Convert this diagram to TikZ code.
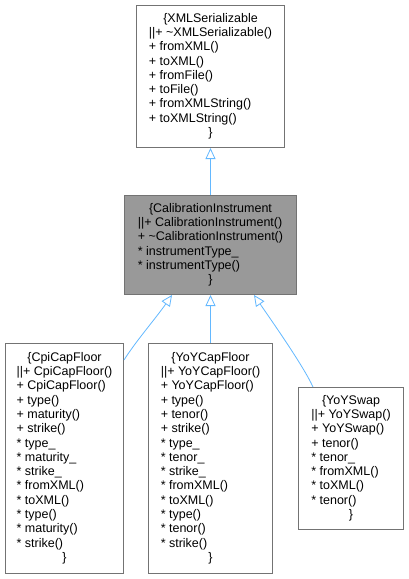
\documentclass[tikz,border=0pt]{standalone}
\usepackage{fontspec}
\setmainfont{Liberation Sans}
\usetikzlibrary{arrows.meta, calc}

\definecolor{edgeblue}{HTML}{63B8FF}
\definecolor{curgray}{HTML}{999999}
\newcommand{\crow}[1]{\multicolumn{1}{@{}c@{}}{#1}}

\begin{document}
\begin{tikzpicture}[
  x=1pt, y=-1pt,
  font=\fontsize{12.5}{14.3}\selectfont,
  cls/.style={rectangle, draw=black!55, line width=1pt, fill=#1, anchor=north west,
              inner sep=0pt, align=center},
  cls/.default=white,
  inherit/.style={draw=edgeblue, line width=0.8pt,
                  -{Triangle[open, length=11pt, width=10pt, fill=white]}},
]
\useasboundingbox (0,0) rectangle (409,579);

% ---- base class ----
\node[cls, minimum width=148pt, minimum height=142pt] (xml) at (136,5) {%
  \begin{tabular}{@{}l@{}}
  \crow{\{XMLSerializable}\\
  \textbar\textbar+ \textasciitilde XMLSerializable()\\
  + fromXML()\\
  + toXML()\\
  + fromFile()\\
  + toFile()\\
  + fromXMLString()\\
  + toXMLString()\\
  \crow{\}}
  \end{tabular}};

% ---- this class ----
\node[cls=curgray, minimum width=172pt, minimum height=99pt] (calib) at (124,195) {%
  \begin{tabular}{@{}l@{}}
  \crow{\{CalibrationInstrument}\\
  \textbar\textbar+ CalibrationInstrument()\\
  + \textasciitilde CalibrationInstrument()\\
  {*} instrumentType\_\\
  {*} instrumentType()\\
  \crow{\}}
  \end{tabular}};

% ---- derived classes ----
\node[cls, minimum width=118pt, minimum height=230pt] (cpi) at (5,343) {%
  \begin{tabular}{@{}l@{}}
  \crow{\{CpiCapFloor}\\
  \textbar\textbar+ CpiCapFloor()\\
  + CpiCapFloor()\\
  + type()\\
  + maturity()\\
  + strike()\\
  {*} type\_\\
  {*} maturity\_\\
  {*} strike\_\\
  {*} fromXML()\\
  {*} toXML()\\
  {*} type()\\
  {*} maturity()\\
  {*} strike()\\
  \crow{\}}
  \end{tabular}};

\node[cls, minimum width=124pt, minimum height=230pt] (yoycap) at (148,343) {%
  \begin{tabular}{@{}l@{}}
  \crow{\{YoYCapFloor}\\
  \textbar\textbar+ YoYCapFloor()\\
  + YoYCapFloor()\\
  + type()\\
  + tenor()\\
  + strike()\\
  {*} type\_\\
  {*} tenor\_\\
  {*} strike\_\\
  {*} fromXML()\\
  {*} toXML()\\
  {*} type()\\
  {*} tenor()\\
  {*} strike()\\
  \crow{\}}
  \end{tabular}};

\node[cls, minimum width=105pt, minimum height=142pt] (swap) at (298,387) {%
  \begin{tabular}{@{}l@{}}
  \crow{\{YoYSwap}\\
  \textbar\textbar+ YoYSwap()\\
  + YoYSwap()\\
  + tenor()\\
  {*} tenor\_\\
  {*} fromXML()\\
  {*} toXML()\\
  {*} tenor()\\
  \crow{\}}
  \end{tabular}};

% ---- inheritance ----
\coordinate (cpiOut) at ($(cpi.north east)+(0,17)$);
\coordinate (swapOut) at ($(swap.north west)+(15,0)$);
\coordinate (tipL) at ($(calib.south west)+(48,0)$);
\coordinate (tipR) at ($(calib.south east)+(-43,0)$);

\draw[inherit] (calib.north) -- (xml.south);
\draw[inherit] (cpiOut) .. controls +(12,-19) and +(-16,23) .. (tipL);
\draw[inherit] (yoycap.north) -- (calib.south);
\draw[inherit] (swapOut) .. controls +(-10,-22) and +(15,22) .. (tipR);

\end{tikzpicture}
\end{document}
